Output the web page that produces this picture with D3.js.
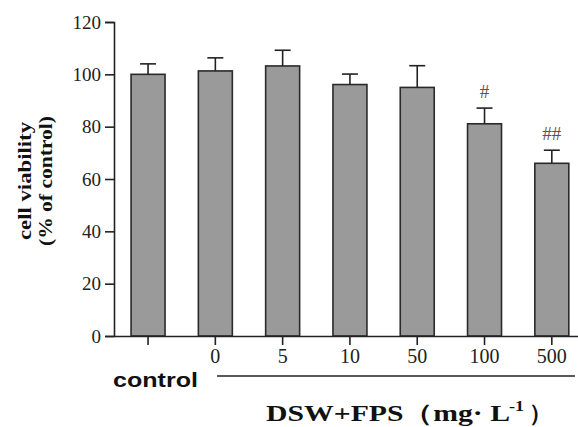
<!DOCTYPE html>
<html>
<head>
<meta charset="utf-8">
<script src="https://cdn.jsdelivr.net/npm/d3@7"></script>
<style>
  body { margin: 0; background: #fff; }
  svg { display: block; }
</style>
</head>
<body>
<svg id="chart" width="578" height="427"></svg>
<script>
// data
const groups = ["control", "0", "5", "10", "50", "100", "500"];
const tickLabels = ["", "0", "5", "10", "50", "100", "500"];
const means = [100, 101.3, 103.2, 96.1, 95, 81.1, 66];
const errs = [4, 5, 6, 4, 8.3, 6, 5];
const marks = ["", "", "", "", "", "#", "##"];
const yTicks = [0, 20, 40, 60, 80, 100, 120];

const svg = d3.select("#chart");
const ink = "#222";
const serif = "'Liberation Serif', 'Times New Roman', Times, serif";

const x = d3.scaleBand()
  .domain(groups)
  .range([114, 578])
  .paddingInner(0.495)
  .paddingOuter(0.195)
  .align(0.65);

const y = d3.scaleLinear().domain([0, 120]).range([336, 22]);

// bars
svg.selectAll(".bar")
  .data(groups)
  .enter().append("rect")
  .attr("class", "bar")
  .attr("x", d => x(d))
  .attr("y", (d, i) => y(means[i]))
  .attr("width", x.bandwidth())
  .attr("height", (d, i) => y(0) - y(means[i]))
  .attr("fill", "#9a9a9a")
  .attr("stroke", "#2a2a2a")
  .attr("stroke-width", 1.6);

// error bars (upper only)
const cap = 16;
groups.forEach((g, i) => {
  const cx = x(g) + x.bandwidth() / 2;
  svg.append("line")
    .attr("x1", cx).attr("x2", cx)
    .attr("y1", y(means[i])).attr("y2", y(means[i] + errs[i]))
    .attr("stroke", ink).attr("stroke-width", 1.6);
  svg.append("line")
    .attr("x1", cx - cap / 2).attr("x2", cx + cap / 2)
    .attr("y1", y(means[i] + errs[i])).attr("y2", y(means[i] + errs[i]))
    .attr("stroke", ink).attr("stroke-width", 1.6);
  if (marks[i]) {
    svg.append("text")
      .attr("x", cx)
      .attr("y", y(means[i] + errs[i]) - 10)
      .attr("text-anchor", "middle")
      .style("font-family", serif)
      .attr("font-size", 19)
      .attr("fill", "#555")
      .text(marks[i]);
  }
});

// y axis
const yAxis = svg.append("g")
  .attr("transform", "translate(114,0)")
  .call(d3.axisLeft(y).tickValues(yTicks).tickSize(9).tickPadding(4));
yAxis.selectAll("path, line").attr("stroke", ink).attr("stroke-width", 1.6);
yAxis.selectAll("text")
  .style("font-family", serif)
  .attr("font-size", 19)
  .attr("fill", ink);

// x axis
const xAxis = svg.append("g")
  .attr("transform", "translate(0,336)")
  .call(d3.axisBottom(x).tickSize(9).tickSizeOuter(0).tickPadding(4)
    .tickFormat((d, i) => tickLabels[i]));
xAxis.selectAll("path, line").attr("stroke", ink).attr("stroke-width", 1.6);
xAxis.selectAll("text")
  .style("font-family", serif)
  .attr("font-size", 20)
  .attr("fill", ink);

// group bracket line and labels
svg.append("line")
  .attr("x1", 217).attr("x2", 575)
  .attr("y1", 376).attr("y2", 376)
  .attr("stroke", ink).attr("stroke-width", 1.4);

svg.append("text")
  .attr("x", 113).attr("y", 387)
  .style("font-family", "'Liberation Sans', Arial, sans-serif")
  .attr("font-weight", "bold")
  .attr("font-size", 21)
  .attr("textLength", 85)
  .attr("lengthAdjust", "spacingAndGlyphs")
  .attr("fill", "#111")
  .text("control");

// x title in three pieces: main text, superscript, closing paren
const titleBits = [
  { t: "DSW+FPS（mg· L", x: 266, y: 421, size: 23, len: 244 },
  { t: "-1", x: 509, y: 411, size: 15, len: 15 },
  { t: "）", x: 529, y: 421, size: 23, len: null }
];
titleBits.forEach(b => {
  const el = svg.append("text")
    .attr("x", b.x).attr("y", b.y)
    .style("font-family", serif)
    .attr("font-weight", "bold")
    .attr("font-size", b.size)
    .attr("fill", "#111")
    .text(b.t);
  if (b.len) el.attr("textLength", b.len).attr("lengthAdjust", "spacingAndGlyphs");
});

// y title, two rotated lines
const yTitle = [["cell viability", 31, 118], ["(% of control)", 52, 130]];
yTitle.forEach(([t, bx, len]) => {
  svg.append("text")
    .attr("transform", `translate(${bx},181) rotate(-90)`)
    .attr("text-anchor", "middle")
    .style("font-family", serif)
    .attr("font-weight", "bold")
    .attr("font-size", 18)
    .attr("textLength", len)
    .attr("lengthAdjust", "spacingAndGlyphs")
    .attr("fill", "#111")
    .text(t);
});
</script>
</body>
</html>
